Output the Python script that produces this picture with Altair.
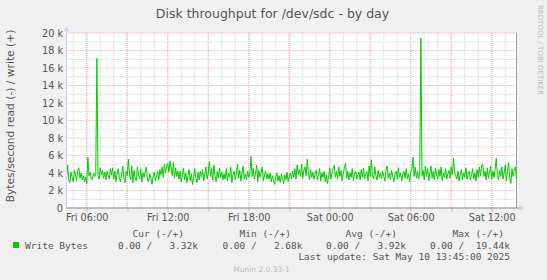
import altair as alt
import pandas as pd
from datetime import datetime, timedelta

# ---------------- data (k bytes/s, 5-minute samples from Fri 04:30) ----------------
write_k = [
    3.6, 4.9, 3.2, 2.9, 4.1, 3.5, 3.0, 4.3, 3.8, 3.1, 4.4, 4.6, 3.4, 4.0, 3.2, 3.7, 3.0, 3.5, 2.8, 5.8,
    3.7, 4.1, 3.4, 3.2, 4.0, 3.6, 3.9, 17.1, 3.7, 3.3, 4.6, 3.8, 4.3, 3.4, 4.1, 3.2, 4.2, 3.7, 3.3, 4.5,
    3.8, 4.6, 3.3, 4.2, 3.0, 3.9, 4.5, 3.4, 3.0, 3.9, 4.8, 3.4, 2.9, 4.2, 3.7, 5.6, 3.9, 3.2, 4.8, 2.9,
    4.3, 3.5, 3.1, 4.7, 3.8, 3.3, 4.5, 3.0, 4.0, 3.5, 4.2, 4.7, 3.2, 3.0, 3.9, 3.4, 2.7, 3.7, 4.1, 3.1,
    3.7, 4.2, 3.2, 4.4, 3.8, 4.7, 3.5, 5.0, 4.0, 4.8, 5.1, 4.1, 5.4, 4.6, 3.7, 5.2, 3.4, 4.6, 3.6, 4.2,
    3.3, 4.2, 3.0, 3.8, 4.6, 3.2, 4.0, 2.9, 3.7, 4.4, 3.1, 3.9, 2.68, 3.6, 4.5, 3.4, 2.9, 4.1, 3.2, 4.2,
    3.5, 4.4, 3.1, 3.9, 4.7, 3.3, 4.0, 5.3, 3.6, 4.5, 3.2, 4.9, 3.7, 3.0, 4.2, 3.4, 4.6, 3.5, 4.1, 3.2,
    3.9, 3.3, 4.5, 3.1, 4.0, 3.5, 4.7, 2.9, 3.8, 4.2, 3.2, 3.9, 5.0, 3.4, 4.3, 3.1, 4.0, 4.8, 3.3, 3.9,
    3.2, 4.2, 3.5, 4.0, 5.9, 3.6, 4.5, 3.3, 3.9, 4.9, 3.0, 4.3, 3.5, 4.1, 4.7, 3.1, 3.8, 4.2, 3.3, 3.9,
    3.3, 4.0, 3.0, 3.7, 3.2, 2.7, 3.6, 4.0, 3.1, 3.7, 2.9, 3.9, 3.3, 2.8, 3.8, 3.2, 4.1, 3.0, 3.6, 4.0,
    3.3, 4.2, 3.5, 4.5, 3.3, 4.9, 3.8, 4.4, 3.6, 5.0, 3.4, 4.3, 4.7, 3.7, 5.6, 4.0, 3.2, 4.4, 3.5, 4.1,
    3.3, 3.9, 4.3, 3.2, 3.8, 4.5, 3.1, 4.0, 3.5, 4.2, 3.0, 3.8, 2.8, 3.7, 4.6, 3.3, 4.0, 4.6, 4.9, 3.5,
    4.2, 3.3, 4.7, 3.6, 4.3, 3.1, 3.9, 4.6, 5.1, 3.4, 4.2, 3.2, 4.0, 3.5, 4.5, 3.1, 3.9, 4.2, 3.3, 3.8,
    4.1, 3.2, 4.4, 3.5, 4.6, 3.3, 3.9, 4.2, 3.1, 4.8, 3.6, 5.5, 3.8, 3.3, 4.7, 3.7, 3.2, 4.3, 3.5, 4.0,
    3.3, 4.2, 3.6, 3.1, 4.4, 4.8, 3.4, 4.0, 3.2, 4.3, 3.6, 3.0, 3.9, 4.2, 3.3, 4.6, 3.5, 4.0, 3.1, 3.9,
    4.2, 3.4, 4.5, 3.3, 3.9, 3.0, 4.0, 4.5, 5.8, 3.6, 4.7, 3.4, 4.2, 3.3, 4.0, 19.44, 3.7, 4.3, 3.2, 4.8,
    3.6, 4.5, 3.1, 4.0, 4.8, 3.4, 4.2, 3.2, 4.6, 3.8, 3.3, 4.4, 3.6, 4.7, 3.1, 4.0, 3.5, 4.5, 3.3, 3.9,
    4.3, 3.4, 4.7, 3.8, 5.7, 4.1, 3.7, 3.3, 4.2, 3.1, 3.8, 4.4, 3.2, 4.0, 3.5, 4.6, 3.3, 3.9, 4.2, 3.2,
    3.8, 4.5, 3.3, 4.0, 3.1, 4.4, 3.5, 4.7, 3.7, 4.9, 5.0, 3.6, 4.2, 3.2, 4.6, 3.4, 4.1, 4.8, 3.3, 4.2,
    3.5, 4.4, 5.7, 3.7, 3.2, 4.3, 3.6, 4.7, 3.3, 4.0, 4.9, 3.1, 4.2, 5.2, 3.4, 2.8, 4.5, 3.6, 4.3, 4.7,
    3.32,
]
y_ticks_k = [0, 2, 4, 6, 8, 10, 12, 14, 16, 18, 20]
legend_heads = ["Cur (-/+)", "Min (-/+)", "Avg (-/+)", "Max (-/+)"]
read_stats = [0.00, 0.00, 0.00, 0.00]
write_stats = [3.32, 2.68, 3.92, 19.44]
series_name = "Write Bytes"
title_text = "Disk throughput for /dev/sdc - by day"
ylabel_text = "Bytes/second read (-) / write (+)"
update_text = "Last update: Sat May 10 13:45:00 2025"
munin_text = "Munin 2.0.33-1"
rrd_text = "RRDTOOL / TOBI OETIKER"

# ---------------- layout ----------------
PL, PT, W, H = 66.5, 33, 450, 175
FONT = "DejaVu Sans"
MONO = "DejaVu Sans Mono"
TXT = "#555555"
NBSP = "\u00a0"

start = datetime(2025, 5, 9, 4, 30)
def iso(d):
    return d.strftime("%Y-%m-%dT%H:%M:%SZ")

df = pd.DataFrame({
    "t": [iso(start + timedelta(minutes=5 * i)) for i in range(len(write_k))],
    "v": [k * 1000 for k in write_k],
})

minor_hours = [iso(datetime(2025, 5, 9, 5) + timedelta(hours=h)) for h in range(33)]
major_hours = [iso(datetime(2025, 5, 9, 6) + timedelta(hours=3 * h)) for h in range(11)]
major_dt = [alt.DateTime(year=2025, month=5, date=9 + (6 + 3 * h) // 24,
                         hours=(6 + 3 * h) % 24, utc=True) for h in range(11)]

xs = alt.Scale(type="utc",
               domain=[alt.DateTime(year=2025, month=5, date=9, hours=4, minutes=30, utc=True),
                       alt.DateTime(year=2025, month=5, date=10, hours=13, minutes=50, utc=True)])
ys = alt.Scale(domain=[0, 20000], nice=False, zero=True)

x_axis = alt.Axis(values=major_dt,
                  labelExpr="utchours(datum.value) % 6 == 0 ? utcFormat(datum.value, '%a %H:%M') : ''",
                  labelOverlap=False, labelFlush=False, labelFont=FONT, labelFontSize=9.7,
                  labelColor=TXT, tickColor="#f0a0a0", tickSize=3, domain=False, grid=False,
                  title=None, labelPadding=1)
y_axis = alt.Axis(values=[k * 1000 for k in y_ticks_k],
                  labelExpr="datum.value == 0 ? '0' : (datum.value / 1000) + ' k'",
                  ticks=False, domain=False, grid=False, labelPadding=4,
                  labelFont=FONT, labelFontSize=9.7, labelColor=TXT,
                  title=ylabel_text, titleFont=FONT, titleFontSize=10.7, titleFontWeight="normal",
                  titleColor=TXT, titleX=-53.5, titleY=82.5, titleAngle=270,
                  titleBaseline="alphabetic")

one = alt.Data(values=[{"a": 0}])

def txt(s, x, y, size, color=TXT, font=FONT, align="left", angle=0):
    return alt.Chart(one).mark_text(text=s, font=font, fontSize=size, color=color,
                                    align=align, baseline="alphabetic", angle=angle
                                    ).encode(x=alt.value(x - PL), y=alt.value(y - PT))

X = alt.X("t:T", scale=xs, axis=x_axis)
Y = alt.Y("v:Q", scale=ys, axis=y_axis)

grid_h_minor = alt.Chart(pd.DataFrame({"v": [k * 1000 for k in range(1, 20, 2)]})).mark_rule(
    color="#cfcfcf", strokeDash=[1, 1], strokeWidth=1).encode(y=Y)
grid_v_minor = alt.Chart(pd.DataFrame({"t": minor_hours})).mark_rule(
    color="#cfcfcf", strokeDash=[1, 1], strokeWidth=1).encode(x=X)
grid_h_major = alt.Chart(pd.DataFrame({"v": [k * 1000 for k in y_ticks_k]})).mark_rule(
    color="#f2a8a8", strokeDash=[1, 1], strokeWidth=1).encode(y=Y)
grid_v_major = alt.Chart(pd.DataFrame({"t": major_hours})).mark_rule(
    color="#f2a8a8", strokeDash=[1, 1], strokeWidth=1).encode(x=X)

line = alt.Chart(df).mark_line(color="#00cc00", strokeWidth=1).encode(x=X, y=Y)

right_border = alt.Chart(one).mark_rule(color="#a0a0a0", strokeWidth=1).encode(
    x=alt.value(W), y=alt.value(0), y2=alt.value(H))
left_axis = alt.Chart(one).mark_rule(color="#cfd6f8", strokeWidth=1).encode(
    x=alt.value(0), y=alt.value(-3), y2=alt.value(H))
bottom_axis = alt.Chart(one).mark_rule(color="#9090a4", strokeWidth=1).encode(
    x=alt.value(0), x2=alt.value(W + 3), y=alt.value(H))
arrow_up = alt.Chart(one).mark_point(shape="triangle-up", filled=True, color="#cfd6f8",
                                     size=30, opacity=1).encode(x=alt.value(0), y=alt.value(-4.5))
arrow_right = alt.Chart(one).mark_point(shape="triangle-right", filled=True, color="#cfd6f8",
                                        size=30, opacity=1).encode(x=alt.value(W + 5), y=alt.value(H))

layers = [grid_h_minor, grid_v_minor, grid_h_major, grid_v_major, right_border, line,
          left_axis, bottom_axis, arrow_up, arrow_right]

# title and side texts
layers.append(txt(title_text, 272.5, 17.5, 12.5, align="center"))
layers.append(txt(rrd_text, 537.5, 5, 7, color="#bbbbbb", angle=90))

# legend
head_ends = [184, 291, 397, 504]
val_ends = [198, 302.5, 406, 510]
for h, xe in zip(legend_heads, head_ends):
    layers.append(txt(h, xe, 237.2, 9.5, font=MONO, align="right"))
for r, w_, xe in zip(read_stats, write_stats, val_ends):
    s = f"{r:.2f} / {w_:6.2f}k".replace(" ", NBSP)
    layers.append(txt(s, xe, 248.6, 9.5, font=MONO, align="right"))
layers.append(txt(series_name, 25, 248.6, 9.5, font=MONO))
layers.append(alt.Chart(one).mark_square(color="#00cc00", size=36, opacity=1).encode(
    x=alt.value(16 - PL), y=alt.value(245 - PT)))
layers.append(txt(update_text, 510, 260, 9.5, font=MONO, align="right"))
layers.append(txt(munin_text, 261.5, 272, 7.5, color="#bbbbbb", align="center"))

chart = alt.layer(*layers).properties(
    width=W, height=H,
    padding={"left": PL, "top": PT, "right": 547 - PL - W, "bottom": 280 - PT - H},
    autosize=alt.AutoSizeParams(type="none"),
    background="#f0f0f0",
).configure_view(fill="#ffffff", stroke=None)

chart.save("out.html", embed_options={"renderer": "svg", "actions": False})
